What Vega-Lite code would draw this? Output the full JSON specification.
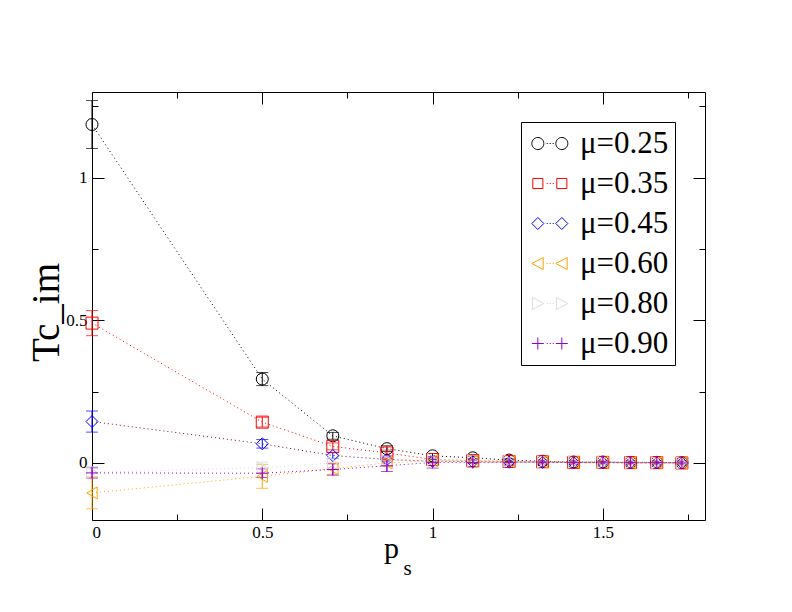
{
  "$schema": "https://vega.github.io/schema/vega-lite/v6.json",
  "width": 613,
  "height": 428,
  "autosize": {"type": "none"},
  "padding": {"left": 92, "top": 92, "right": 87, "bottom": 92},
  "background": "white",
  "config": {
    "font": "Liberation Serif",
    "view": {"stroke": "black", "strokeWidth": 1},
    "axis": {
      "labelFont": "Liberation Serif",
      "titleFont": "Liberation Serif",
      "labelFontSize": 17,
      "titleFontWeight": "normal",
      "labelColor": "black",
      "titleColor": "black",
      "tickColor": "black",
      "tickWidth": 1,
      "domain": false,
      "grid": false,
      "format": "~g"
    }
  },
  "data": {
    "values": [
      {"series": "μ=0.25", "p": 0, "tc": 1.186, "err": 0.084},
      {"series": "μ=0.25", "p": 0.5, "tc": 0.294, "err": 0.023},
      {"series": "μ=0.25", "p": 0.7071, "tc": 0.095, "err": 0.012},
      {"series": "μ=0.25", "p": 0.866, "tc": 0.05, "err": 0.01},
      {"series": "μ=0.25", "p": 1, "tc": 0.025, "err": 0.008},
      {"series": "μ=0.25", "p": 1.118, "tc": 0.018, "err": 0.006},
      {"series": "μ=0.25", "p": 1.2247, "tc": 0.01, "err": 0.005},
      {"series": "μ=0.25", "p": 1.3229, "tc": 0.006, "err": 0.005},
      {"series": "μ=0.25", "p": 1.4142, "tc": 0.003, "err": 0.005},
      {"series": "μ=0.25", "p": 1.5, "tc": 0.003, "err": 0.005},
      {"series": "μ=0.25", "p": 1.5811, "tc": 0.002, "err": 0.005},
      {"series": "μ=0.25", "p": 1.6583, "tc": 0.002, "err": 0.005},
      {"series": "μ=0.25", "p": 1.7321, "tc": 0.001, "err": 0.005},
      {"series": "μ=0.35", "p": 0, "tc": 0.49, "err": 0.044},
      {"series": "μ=0.35", "p": 0.5, "tc": 0.143, "err": 0.017},
      {"series": "μ=0.35", "p": 0.7071, "tc": 0.058, "err": 0.012},
      {"series": "μ=0.35", "p": 0.866, "tc": 0.035, "err": 0.01},
      {"series": "μ=0.35", "p": 1, "tc": 0.012, "err": 0.008},
      {"series": "μ=0.35", "p": 1.118, "tc": 0.008, "err": 0.007},
      {"series": "μ=0.35", "p": 1.2247, "tc": 0.005, "err": 0.006},
      {"series": "μ=0.35", "p": 1.3229, "tc": 0.004, "err": 0.006},
      {"series": "μ=0.35", "p": 1.4142, "tc": 0.002, "err": 0.006},
      {"series": "μ=0.35", "p": 1.5, "tc": 0.002, "err": 0.006},
      {"series": "μ=0.35", "p": 1.5811, "tc": 0.001, "err": 0.006},
      {"series": "μ=0.35", "p": 1.6583, "tc": 0.001, "err": 0.006},
      {"series": "μ=0.35", "p": 1.7321, "tc": 0.0, "err": 0.006},
      {"series": "μ=0.45", "p": 0, "tc": 0.145, "err": 0.037},
      {"series": "μ=0.45", "p": 0.5, "tc": 0.067, "err": 0.015},
      {"series": "μ=0.45", "p": 0.7071, "tc": 0.026, "err": 0.01},
      {"series": "μ=0.45", "p": 0.866, "tc": 0.012, "err": 0.008},
      {"series": "μ=0.45", "p": 1, "tc": 0.006, "err": 0.006},
      {"series": "μ=0.45", "p": 1.118, "tc": 0.004, "err": 0.006},
      {"series": "μ=0.45", "p": 1.2247, "tc": 0.003, "err": 0.006},
      {"series": "μ=0.45", "p": 1.3229, "tc": 0.002, "err": 0.006},
      {"series": "μ=0.45", "p": 1.4142, "tc": 0.001, "err": 0.006},
      {"series": "μ=0.45", "p": 1.5, "tc": 0.001, "err": 0.006},
      {"series": "μ=0.45", "p": 1.5811, "tc": 0.0, "err": 0.006},
      {"series": "μ=0.45", "p": 1.6583, "tc": 0.0, "err": 0.006},
      {"series": "μ=0.45", "p": 1.7321, "tc": 0.0, "err": 0.006},
      {"series": "μ=0.60", "p": 0, "tc": -0.105, "err": 0.056},
      {"series": "μ=0.60", "p": 0.5, "tc": -0.047, "err": 0.042},
      {"series": "μ=0.60", "p": 0.7071, "tc": -0.02, "err": 0.02},
      {"series": "μ=0.60", "p": 0.866, "tc": 0.0, "err": 0.012},
      {"series": "μ=0.60", "p": 1, "tc": 0.008, "err": 0.008},
      {"series": "μ=0.60", "p": 1.118, "tc": 0.006, "err": 0.008},
      {"series": "μ=0.60", "p": 1.2247, "tc": 0.005, "err": 0.007},
      {"series": "μ=0.60", "p": 1.3229, "tc": 0.004, "err": 0.007},
      {"series": "μ=0.60", "p": 1.4142, "tc": 0.003, "err": 0.007},
      {"series": "μ=0.60", "p": 1.5, "tc": 0.002, "err": 0.007},
      {"series": "μ=0.60", "p": 1.5811, "tc": 0.001, "err": 0.007},
      {"series": "μ=0.60", "p": 1.6583, "tc": 0.001, "err": 0.007},
      {"series": "μ=0.60", "p": 1.7321, "tc": 0.0, "err": 0.007},
      {"series": "μ=0.80", "p": 0, "tc": -0.033, "err": 0.02},
      {"series": "μ=0.80", "p": 0.5, "tc": -0.017, "err": 0.02},
      {"series": "μ=0.80", "p": 0.7071, "tc": 0.0, "err": 0.015},
      {"series": "μ=0.80", "p": 0.866, "tc": 0.008, "err": 0.01},
      {"series": "μ=0.80", "p": 1, "tc": 0.012, "err": 0.008},
      {"series": "μ=0.80", "p": 1.118, "tc": 0.008, "err": 0.008},
      {"series": "μ=0.80", "p": 1.2247, "tc": 0.006, "err": 0.007},
      {"series": "μ=0.80", "p": 1.3229, "tc": 0.004, "err": 0.007},
      {"series": "μ=0.80", "p": 1.4142, "tc": 0.003, "err": 0.007},
      {"series": "μ=0.80", "p": 1.5, "tc": 0.002, "err": 0.007},
      {"series": "μ=0.80", "p": 1.5811, "tc": 0.001, "err": 0.007},
      {"series": "μ=0.80", "p": 1.6583, "tc": 0.001, "err": 0.007},
      {"series": "μ=0.80", "p": 1.7321, "tc": 0.0, "err": 0.007},
      {"series": "μ=0.90", "p": 0, "tc": -0.035, "err": 0.018},
      {"series": "μ=0.90", "p": 0.5, "tc": -0.036, "err": 0.015},
      {"series": "μ=0.90", "p": 0.7071, "tc": -0.023, "err": 0.02},
      {"series": "μ=0.90", "p": 0.866, "tc": -0.01, "err": 0.02},
      {"series": "μ=0.90", "p": 1, "tc": 0.002, "err": 0.02},
      {"series": "μ=0.90", "p": 1.118, "tc": 0.001, "err": 0.015},
      {"series": "μ=0.90", "p": 1.2247, "tc": 0.002, "err": 0.01},
      {"series": "μ=0.90", "p": 1.3229, "tc": 0.003, "err": 0.005},
      {"series": "μ=0.90", "p": 1.4142, "tc": 0.002, "err": 0.006},
      {"series": "μ=0.90", "p": 1.5, "tc": 0.003, "err": 0.005},
      {"series": "μ=0.90", "p": 1.5811, "tc": 0.001, "err": 0.006},
      {"series": "μ=0.90", "p": 1.6583, "tc": 0.001, "err": 0.006},
      {"series": "μ=0.90", "p": 1.7321, "tc": 0.0, "err": 0.006}
    ]
  },
  "layer": [
    {
      "mark": {"type": "line", "strokeDash": [1, 3], "strokeWidth": 1},
      "encoding": {
        "x": {
          "field": "p", "type": "quantitative",
          "scale": {"domain": [0, 1.8], "nice": false, "zero": false},
          "axis": {
            "orient": "bottom", "values": [0, 0.5, 1, 1.5], "tickSize": -12, "labelPadding": 16,
            "title": "p", "titleFontSize": 30, "titleX": 299, "titleY": 37,
            "titleBaseline": "alphabetic", "titleAlign": "center", "titleAngle": 0
          }
        },
        "y": {
          "field": "tc", "type": "quantitative",
          "scale": {"domain": [-0.2, 1.3], "nice": false, "zero": false},
          "axis": {
            "orient": "left", "values": [0, 0.5, 1], "tickSize": -12, "labelPadding": 17,
            "title": "Tc_im", "titleFontSize": 39, "titleAngle": 270, "titleX": -34, "titleY": 220,
            "titleBaseline": "alphabetic", "titleAlign": "center"
          }
        },
        "stroke": {
          "field": "series", "type": "nominal",
          "scale": {
            "domain": ["μ=0.25", "μ=0.35", "μ=0.45", "μ=0.60", "μ=0.80", "μ=0.90"],
            "range": ["#000000", "#ff0000", "#670748", "#ffa500", "#dcdcdc", "#9400d3"]
          },
          "legend": null
        }
      }
    },
    {
      "mark": {"type": "errorbar", "ticks": {"size": 12}, "thickness": 1},
      "encoding": {
        "x": {"field": "p", "type": "quantitative", "axis": null},
        "y": {"field": "tc", "type": "quantitative", "axis": null},
        "yError": {"field": "err"},
        "color": {
          "field": "series", "type": "nominal",
          "scale": {
            "domain": ["μ=0.25", "μ=0.35", "μ=0.45", "μ=0.60", "μ=0.80", "μ=0.90"],
            "range": ["#000000", "#ff0000", "#0000ff", "#ffa500", "#dcdcdc", "#9400d3"]
          },
          "legend": null
        }
      }
    },
    {
      "mark": {"type": "point", "filled": false, "opacity": 1, "strokeWidth": 1, "size": 144},
      "encoding": {
        "x": {
          "field": "p", "type": "quantitative",
          "axis": {
            "orient": "bottom", "values": [0.25, 0.75, 1.25, 1.75], "tickSize": -6, "labels": false,
            "title": "s", "titleFontSize": 21, "titleX": 315, "titleY": 54,
            "titleBaseline": "alphabetic", "titleAlign": "center"
          }
        },
        "y": {
          "field": "tc", "type": "quantitative",
          "axis": {"orient": "left", "values": [-0.25, 0.25, 0.75, 1.25], "tickSize": -6, "labels": false, "title": null}
        },
        "color": {
          "field": "series", "type": "nominal",
          "scale": {
            "domain": ["μ=0.25", "μ=0.35", "μ=0.45", "μ=0.60", "μ=0.80", "μ=0.90"],
            "range": ["#000000", "#ff0000", "#0000ff", "#ffa500", "#dcdcdc", "#9400d3"]
          },
          "legend": null
        },
        "shape": {
          "field": "series", "type": "nominal",
          "scale": {
            "domain": ["μ=0.25", "μ=0.35", "μ=0.45", "μ=0.60", "μ=0.80", "μ=0.90"],
            "range": ["circle", "square", "diamond", "triangle-left", "triangle-right", "M-1,0H1M0,-1V1"]
          },
          "legend": null
        }
      }
    },
    {
      "transform": [{"filter": "false"}],
      "mark": {"type": "point", "filled": false, "opacity": 1, "strokeWidth": 1},
      "encoding": {
        "x": {
          "field": "p", "type": "quantitative",
          "axis": {"orient": "top", "values": [0, 0.5, 1, 1.5], "tickSize": -12, "labels": false, "title": null}
        },
        "y": {
          "field": "tc", "type": "quantitative",
          "axis": {"orient": "right", "values": [0, 0.5, 1], "tickSize": -12, "labels": false, "title": null}
        },
        "stroke": {
          "field": "series", "type": "nominal",
          "scale": {
            "domain": ["μ=0.25", "μ=0.35", "μ=0.45", "μ=0.60", "μ=0.80", "μ=0.90"],
            "range": ["#000000", "#ff0000", "#0000ff", "#ffa500", "#dcdcdc", "#9400d3"]
          },
          "legend": {
            "orient": "none", "legendX": 429, "legendY": 30, "title": null,
            "strokeColor": "black", "padding": 6, "rowPadding": 8,
            "labelFont": "Liberation Serif", "labelFontSize": 31, "labelColor": "black", "labelOffset": 22,
            "symbolSize": 576, "symbolStrokeWidth": 1
          }
        },
        "shape": {
          "field": "series", "type": "nominal",
          "scale": {
            "domain": ["μ=0.25", "μ=0.35", "μ=0.45", "μ=0.60", "μ=0.80", "μ=0.90"],
            "range": [
              "M-0.89,0A0.5,0.5 0 1,1 0.11,0A0.5,0.5 0 1,1 -0.89,0M1.11,0A0.5,0.5 0 1,1 2.11,0A0.5,0.5 0 1,1 1.11,0M0.35,0h0.09M0.6,0h0.09M0.85,0h0.09",
              "M-0.81,-0.42H0.03V0.42H-0.81ZM1.19,-0.42H2.03V0.42H1.19ZM0.35,0h0.09M0.6,0h0.09M0.85,0h0.09",
              "M-0.89,0L-0.39,-0.5L0.11,0L-0.39,0.5ZM1.11,0L1.61,-0.5L2.11,0L1.61,0.5ZM0.35,0h0.09M0.6,0h0.09M0.85,0h0.09",
              "M-0.89,0L0.06,-0.5L0.06,0.5ZM1.11,0L2.06,-0.5L2.06,0.5ZM0.35,0h0.09M0.6,0h0.09M0.85,0h0.09",
              "M-0.84,-0.5L0.11,0L-0.84,0.5ZM1.16,-0.5L2.11,0L1.16,0.5ZM0.35,0h0.09M0.6,0h0.09M0.85,0h0.09",
              "M-0.89,0H0.11M-0.39,-0.5V0.5M1.11,0H2.11M1.61,-0.5V0.5M0.35,0h0.09M0.6,0h0.09M0.85,0h0.09"
            ]
          }
        }
      }
    },
    {
      "transform": [{"filter": "false"}],
      "mark": {"type": "point", "filled": false, "opacity": 1},
      "encoding": {
        "x": {
          "field": "p", "type": "quantitative",
          "axis": {"orient": "top", "values": [0.25, 0.75, 1.25, 1.75], "tickSize": -6, "labels": false, "title": null}
        },
        "y": {
          "field": "tc", "type": "quantitative",
          "axis": {"orient": "right", "values": [-0.25, 0.25, 0.75, 1.25], "tickSize": -6, "labels": false, "title": null}
        }
      }
    }
  ],
  "resolve": {
    "scale": {"shape": "independent", "stroke": "independent"},
    "axis": {"x": "independent", "y": "independent"}
  }
}
